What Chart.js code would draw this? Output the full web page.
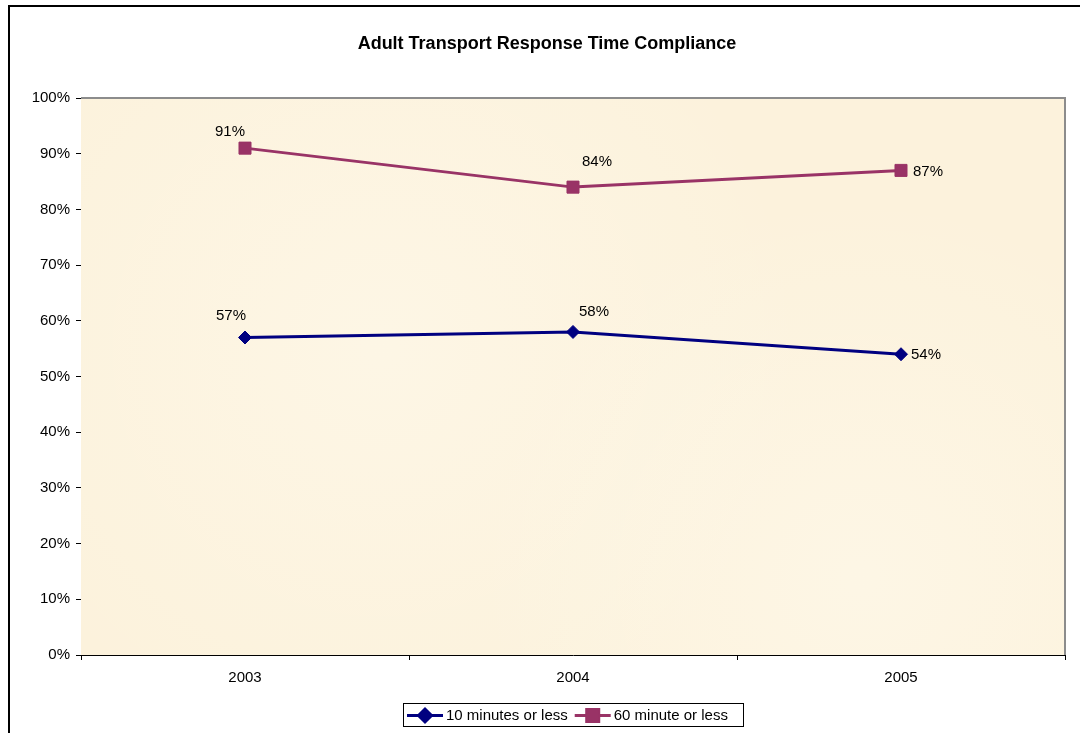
<!DOCTYPE html>
<html>
<head>
<meta charset="utf-8">
<title>Adult Transport Response Time Compliance</title>
<script src="https://cdn.jsdelivr.net/npm/chart.js@4.4.0/dist/chart.umd.min.js"></script>
<style>
    html, body { margin: 0; padding: 0; background: #fff; overflow: hidden; }
    #wrap { position: relative; width: 1080px; height: 733px; }
    #frame { position: absolute; left: 8px; top: 5px; width: 1100px; height: 780px; border: 2px solid #000; }
    #chart { position: absolute; left: 0; top: 0; }
</style>
</head>
<body>
<div id="wrap">
    <div id="frame"></div>
    <canvas id="chart" width="1080" height="733"></canvas>
</div>
<script>
// Data
const years = ['2003', '2004', '2005'];
const tenMinutes = [57, 58, 54];
const sixtyMinutes = [91, 84, 87];
const seriesNames = ['10 minutes or less', '60 minute or less'];

// Where each value label sits relative to its point (dx, dy)
const tenLabelOffsets = [[-14, -22], [21, -20], [25, 1]];
const sixtyLabelOffsets = [[-15, -16], [24, -25], [27, 1]];

const FONT = '"Liberation Sans", Arial, sans-serif';
const PLOT_BG = '#fcf2dc';

// --- plugins ---
const plotFrame = {
    id: 'plotFrame',
    beforeDatasetsDraw(chart) {
        const { ctx, chartArea: a } = chart;
        ctx.save();
        ctx.fillStyle = PLOT_BG;
        ctx.fillRect(a.left, a.top, a.right - a.left, a.bottom - a.top);
        // soft light patches for the parchment look
        [[300, 250, 420], [780, 480, 380]].forEach(([cx, cy, r]) => {
            const g = ctx.createRadialGradient(a.left + cx, a.top + cy, 10, a.left + cx, a.top + cy, r);
            g.addColorStop(0, 'rgba(255,251,240,0.45)');
            g.addColorStop(1, 'rgba(255,251,240,0)');
            ctx.fillStyle = g;
            ctx.fillRect(a.left, a.top, a.right - a.left, a.bottom - a.top);
        });
        ctx.strokeStyle = '#8c8c8c';
        ctx.lineWidth = 2;
        ctx.beginPath();
        ctx.moveTo(a.left, a.top);
        ctx.lineTo(a.right, a.top);
        ctx.lineTo(a.right, a.bottom);
        ctx.stroke();
        ctx.restore();
    }
};

const titleAndLabels = {
    id: 'titleAndLabels',
    afterDatasetsDraw(chart) {
        const { ctx } = chart;
        ctx.save();
        ctx.fillStyle = '#000';
        ctx.textAlign = 'center';
        ctx.textBaseline = 'middle';
        ctx.font = 'bold 18px ' + FONT;
        ctx.fillText('Adult Transport Response Time Compliance', 547, 44);

        ctx.font = '15px ' + FONT;
        const offsets = [tenLabelOffsets, sixtyLabelOffsets];
        chart.data.datasets.forEach((ds, i) => {
            chart.getDatasetMeta(i).data.forEach((pt, j) => {
                const [dx, dy] = offsets[i][j];
                ctx.fillText(ds.data[j] + '%', pt.x + dx, pt.y + dy);
            });
        });
        ctx.restore();
    }
};

const boxLegend = {
    id: 'boxLegend',
    afterDraw(chart) {
        const { ctx } = chart;
        const boxX = 403, boxY = 703, boxW = 340, boxH = 23;
        ctx.save();
        ctx.fillStyle = '#fff';
        ctx.fillRect(boxX, boxY, boxW, boxH);
        ctx.strokeStyle = '#000';
        ctx.lineWidth = 1;
        ctx.strokeRect(boxX + 0.5, boxY + 0.5, boxW, boxH);
        ctx.font = '15px ' + FONT;
        ctx.textBaseline = 'middle';
        const cy = boxY + boxH / 2 + 1;
        let x = boxX + 4;
        chart.data.datasets.forEach(ds => {
            ctx.strokeStyle = ds.borderColor;
            ctx.lineWidth = 3;
            ctx.beginPath();
            ctx.moveTo(x, cy);
            ctx.lineTo(x + 36, cy);
            ctx.stroke();
            Chart.helpers.drawPoint(ctx, {
                pointStyle: ds.pointStyle,
                radius: ds.pointRadius,
                borderWidth: 1
            }, x + 18, cy);
            ctx.fillStyle = ds.borderColor;
            ctx.fill();
            ctx.fillStyle = '#000';
            ctx.textAlign = 'left';
            ctx.fillText(ds.label, x + 39, cy);
            x += 39 + ctx.measureText(ds.label).width + 7;
        });
        ctx.restore();
    }
};

// --- chart ---
const ctx = document.getElementById('chart').getContext('2d');
new Chart(ctx, {
    type: 'line',
    data: {
        labels: years,
        datasets: [
            {
                label: seriesNames[0],
                data: tenMinutes,
                borderColor: '#000080',
                backgroundColor: '#000080',
                borderWidth: 3,
                pointStyle: 'rectRot',
                pointRadius: 6.5,
                pointBorderWidth: 1,
                tension: 0
            },
            {
                label: seriesNames[1],
                data: sixtyMinutes,
                borderColor: '#993366',
                backgroundColor: '#993366',
                borderWidth: 3,
                pointStyle: 'rect',
                pointRadius: 8.5,
                pointBorderWidth: 1,
                tension: 0
            }
        ]
    },
    options: {
        responsive: false,
        animation: false,
        events: [],
        layout: { padding: { left: 0, right: 15, top: 98, bottom: 0 } },
        plugins: {
            legend: { display: false },
            title: { display: false },
            tooltip: { enabled: false }
        },
        scales: {
            x: {
                offset: true,
                grid: {
                    offset: true,
                    drawOnChartArea: false,
                    drawTicks: true,
                    tickLength: 5,
                    tickColor: '#000',
                    tickWidth: 1
                },
                border: { color: '#000', width: 1 },
                ticks: {
                    color: '#000',
                    font: { family: FONT, size: 15 },
                    padding: 9,
                    maxRotation: 0
                },
                afterFit(scale) { scale.height = 78; }
            },
            y: {
                min: 0,
                max: 100,
                grid: {
                    drawOnChartArea: false,
                    drawTicks: true,
                    tickLength: 5,
                    tickColor: '#000',
                    tickWidth: 1
                },
                border: { color: '#000', width: 1 },
                ticks: {
                    stepSize: 10,
                    color: '#000',
                    font: { family: FONT, size: 15 },
                    padding: 6,
                    callback: v => v + '%'
                },
                afterFit(scale) { scale.width = 81; }
            }
        }
    },
    plugins: [plotFrame, titleAndLabels, boxLegend]
});
</script>
</body>
</html>
